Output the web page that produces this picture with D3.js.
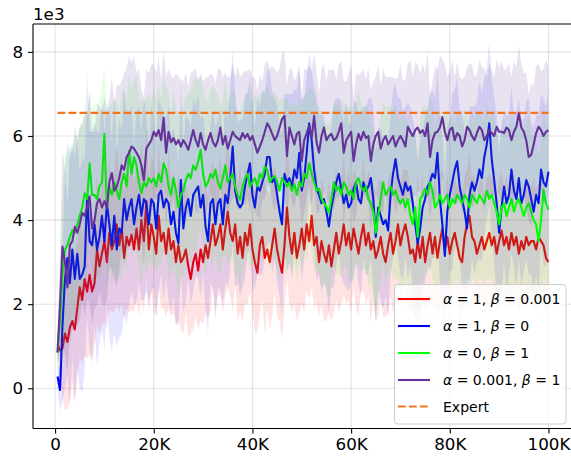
<!DOCTYPE html>
<html><head><meta charset="utf-8">
<script src="https://cdn.jsdelivr.net/npm/d3@7"></script>
<style>html,body{margin:0;padding:0;background:#fff;}svg{display:block;}</style>
</head><body>
<svg id="chart" width="571" height="458"></svg>
<script>
// timesteps: 500 .. 100000 every 500
const steps = d3.range(500, 100001, 500);
const xTicks = [0, 20000, 40000, 60000, 80000, 100000];
const xTickLabels = ["0", "20K", "40K", "60K", "80K", "100K"];
const yTicks = [0, 2, 4, 6, 8];
const yTickLabels = ["0", "2", "4", "6", "8"];
const expertValue = 6.55; // in 1e3

// values in thousands (1e3)
const redMean = [
1.05,0.9,0.95,1.3,1.1,1.45,1.6,1.4,1.9,2.4,
2.1,2.6,2.3,2.7,2.3,2.5,3.3,2.9,3.2,3.5,
3.0,3.7,3.3,3.5,3.9,3.4,3.8,3.1,3.6,3.4,
3.65,3.3,3.8,3.3,4.0,3.5,4.45,3.3,3.9,3.6,
3.2,4.1,3.5,3.7,3.2,3.8,3.3,3.5,3.0,3.4,
3.0,3.1,3.3,2.9,2.6,3.0,3.2,2.8,3.3,3.0,
3.4,3.1,3.5,3.9,3.4,3.6,3.9,3.3,3.8,4.2,
3.7,3.5,3.9,3.2,3.6,3.1,3.7,3.4,3.9,3.3,
3.0,2.75,3.4,3.6,3.1,3.3,3.0,3.4,3.8,3.3,
3.0,2.75,3.4,4.3,3.6,3.2,3.7,3.1,3.4,3.8,
3.3,3.9,3.5,4.1,3.4,3.6,3.0,3.5,3.2,3.0,
3.4,2.9,3.3,3.7,3.2,3.5,3.9,3.4,3.7,3.3,
3.8,3.5,3.2,3.6,3.9,3.4,3.7,3.3,3.5,3.1,
3.3,3.6,3.2,3.0,3.4,3.7,3.2,3.5,3.9,3.4,
3.7,3.9,3.6,3.2,3.3,3.0,3.5,3.1,3.6,3.0,
3.4,3.7,3.2,3.6,3.1,3.5,3.8,3.3,3.6,3.2,
3.5,3.7,3.4,3.1,3.0,3.6,3.9,4.1,3.6,3.5,
3.2,3.4,3.6,3.3,3.5,3.7,3.4,3.6,3.2,3.5,
3.75,3.4,3.6,3.3,3.7,3.4,3.6,3.2,3.5,3.3,
3.6,3.4,3.5,3.5,3.3,3.6,3.5,3.4,3.1,3.0];
const redStd = [
0.3,0.5,1.2,1.8,1.6,1.7,1.5,1.8,1.6,1.7,
1.5,1.8,1.6,1.9,1.7,1.5,1.8,1.6,1.7,1.9,
1.6,1.8,1.5,1.7,1.9,1.6,1.8,1.5,1.7,1.6,
1.8,1.5,1.7,1.6,1.9,1.7,1.8,1.5,1.6,1.8,
1.5,1.7,1.6,1.8,1.5,1.9,1.6,1.7,1.5,1.8,
1.6,1.8,1.5,1.7,1.3,1.6,1.5,1.4,1.7,1.5,
1.6,1.4,1.7,1.5,1.6,1.4,1.7,1.5,1.6,1.8,
1.5,1.7,1.4,1.6,1.8,1.5,1.7,1.4,1.6,1.5,
1.7,1.4,1.6,1.5,1.8,1.4,1.6,1.7,1.5,1.6,
1.4,1.6,1.5,1.7,1.6,1.4,1.7,1.5,1.6,1.8,
1.5,1.6,1.4,1.7,1.5,1.6,1.3,1.5,1.6,1.4,
1.6,1.3,1.5,1.6,1.4,1.5,1.7,1.4,1.6,1.5,
1.4,1.6,1.5,1.3,1.6,1.4,1.5,1.7,1.4,1.5,
1.6,1.4,1.5,1.3,1.6,1.5,1.4,1.6,1.5,1.4,
1.5,1.3,1.6,1.4,1.5,1.3,1.6,1.4,1.5,1.3,
1.4,1.6,1.3,1.5,1.4,1.6,1.4,1.3,1.5,1.4,
1.5,1.3,1.4,1.6,1.4,1.5,1.3,1.5,1.4,1.6,
1.3,1.5,1.4,1.3,1.5,1.4,1.6,1.4,1.3,1.5,
1.4,1.3,1.5,1.4,1.6,1.3,1.4,1.5,1.3,1.4,
1.5,1.4,1.3,1.5,1.4,1.3,1.5,1.4,1.3,1.4];

const blueMean = [
0.28,-0.04,1.5,2.6,3.1,2.5,3.3,2.6,3.2,2.6,
2.7,2.9,4.6,3.5,3.4,3.9,3.3,3.6,4.1,3.5,
4.4,3.9,3.4,4.1,3.3,3.8,3.7,4.5,4.0,4.3,
4.5,3.9,4.3,4.6,4.1,4.5,4.4,3.9,4.5,4.4,
3.8,4.6,4.7,4.3,4.5,4.4,3.9,4.2,3.7,3.45,
4.95,3.8,4.3,4.5,4.1,4.6,4.7,4.8,4.3,4.6,
3.85,3.5,4.4,4.5,3.9,4.4,4.5,3.9,4.6,4.4,
5.0,5.75,4.7,4.4,4.3,4.4,4.8,5.1,5.35,4.6,
4.3,4.8,4.7,4.9,5.1,5.5,5.5,4.9,5.0,4.6,
4.2,3.9,5.1,4.9,5.0,4.8,5.2,5.0,5.6,4.7,
5.0,5.6,6.3,5.9,5.2,4.75,4.6,4.4,4.5,4.2,
3.85,4.3,4.6,4.9,5.1,4.75,4.4,4.6,4.3,4.4,
4.75,4.9,4.5,4.4,4.9,4.7,4.8,5.0,4.5,3.6,
4.3,4.1,3.9,4.0,3.75,4.6,5.1,5.45,5.0,4.8,
4.6,4.9,4.7,4.8,4.4,3.9,3.45,3.8,4.3,4.5,
4.8,4.9,5.1,5.0,5.6,4.5,3.9,3.15,4.2,4.6,
4.9,5.2,5.4,4.8,4.5,4.2,3.8,4.6,4.9,4.7,
4.9,5.2,5.0,5.5,5.8,6.3,5.45,4.95,4.4,3.7,
4.3,4.8,4.4,4.6,5.2,4.7,4.5,5.0,4.4,4.6,
4.95,4.8,4.5,4.2,4.6,4.4,5.2,4.9,4.8,5.15];
const blueStd = [
0.3,0.5,1.8,2.6,2.8,3.0,2.5,2.9,2.7,2.6,
2.8,2.5,2.9,2.6,2.7,2.4,2.8,2.5,2.7,2.6,
2.4,2.7,2.5,2.8,2.3,2.6,2.4,2.7,2.5,2.3,
2.2,1.9,2.3,2.1,2.0,2.4,2.1,1.9,2.2,2.0,
2.1,2.3,2.0,2.2,1.9,2.3,2.1,2.0,2.2,1.9,
2.3,2.0,2.2,1.9,2.1,2.3,2.0,2.2,2.1,1.9,
2.0,2.2,1.9,2.1,2.3,2.0,2.2,1.9,2.1,2.0,
2.2,2.3,2.3,1.9,2.1,2.0,2.2,1.9,2.1,2.3,
1.9,2.1,2.0,2.2,1.9,2.1,2.0,2.2,1.9,2.1,
2.0,2.2,1.9,2.1,2.0,2.2,1.9,2.1,2.0,2.2,
1.9,1.8,1.7,1.7,2.0,2.2,1.9,2.1,2.0,1.8,
2.1,1.9,2.2,2.0,1.8,2.1,1.9,2.2,2.0,1.9,
2.1,1.9,2.0,2.2,1.8,2.0,2.1,1.9,2.2,2.0,
1.9,2.1,2.0,1.8,2.1,1.9,2.0,1.8,1.9,2.1,
2.0,1.8,2.1,1.9,2.0,2.2,1.9,2.1,1.8,2.0,
1.9,2.1,2.0,1.9,2.05,2.0,2.1,1.9,2.0,1.8,
2.1,1.9,2.0,1.8,2.1,1.9,2.0,2.1,1.8,2.0,
1.9,2.1,2.0,1.9,1.8,1.93,1.9,2.0,2.1,1.9,
2.0,1.8,2.1,1.9,2.0,1.8,2.1,1.9,2.0,1.8,
1.9,2.1,1.8,2.0,1.9,2.1,1.8,2.0,1.9,2.0];

const greenMean = [
0.85,1.6,2.7,3.3,3.4,3.6,3.76,3.7,3.9,4.1,
4.3,4.64,4.5,5.35,4.6,4.6,4.5,4.8,4.9,6.05,
4.3,4.8,4.6,4.9,4.7,4.5,4.9,5.1,4.8,5.65,
5.1,5.5,5.3,4.9,4.64,4.9,4.8,5.0,4.9,5.0,
4.8,5.1,4.9,5.35,5.2,4.8,4.6,5.0,4.7,4.3,
4.6,4.7,4.95,5.1,5.0,5.3,5.2,5.4,5.67,5.1,
4.8,4.9,5.1,5.0,5.2,4.9,4.75,5.0,5.3,4.9,
5.0,5.1,4.8,4.6,4.48,4.8,5.0,5.1,4.8,4.9,
5.0,4.8,5.1,5.0,5.27,5.2,4.9,5.0,5.05,4.9,
4.7,5.0,4.9,4.8,4.9,4.7,4.85,4.6,4.9,4.8,
5.1,5.0,5.35,5.1,4.9,4.7,4.75,4.5,4.4,4.32,
4.17,4.5,4.9,4.7,4.8,4.6,4.9,4.8,4.6,4.7,
4.5,4.9,5.0,4.8,4.7,4.8,4.5,4.4,4.2,3.7,
4.1,4.5,4.9,4.6,4.7,4.8,4.6,4.7,4.5,4.4,
4.5,4.3,4.5,4.1,3.9,4.3,3.6,4.5,4.6,4.75,
4.6,4.9,4.7,4.3,4.4,4.6,4.4,4.5,4.6,4.3,
4.5,4.4,4.6,4.5,4.4,4.6,4.5,4.3,4.6,4.5,
4.4,4.6,4.5,4.4,4.7,4.5,4.6,4.4,4.2,3.9,
4.3,4.4,4.1,4.3,4.5,4.2,4.4,4.5,4.3,4.1,
4.3,4.4,4.2,4.0,3.9,3.5,4.0,4.72,4.4,4.24];
const greenStd = [
0.4,1.2,2.0,2.3,2.1,2.2,2.0,2.3,2.1,2.2,
2.0,2.2,1.9,1.7,2.0,2.2,1.9,2.1,2.3,1.6,
2.1,1.9,2.2,2.0,2.1,1.9,2.2,2.0,2.1,1.8,
2.0,1.9,2.1,2.0,2.2,1.9,2.1,2.0,1.9,2.1,
2.0,2.2,1.9,2.1,2.0,2.2,1.9,2.1,2.0,2.2,
1.9,2.1,2.0,1.9,2.1,2.0,2.2,1.9,1.8,2.0,
2.1,1.9,2.0,2.2,1.9,2.1,2.0,1.9,2.1,2.0,
1.9,2.0,2.2,1.9,2.1,2.0,1.9,2.1,2.0,1.9,
2.0,2.1,1.9,2.0,1.8,2.0,2.1,1.9,2.0,2.1,
2.1,1.9,2.0,2.1,1.9,2.0,1.9,2.1,2.0,1.9,
1.9,2.0,1.8,2.0,2.1,1.9,2.0,2.1,1.9,2.0,
2.1,2.0,1.9,2.0,2.1,1.9,2.0,1.9,2.1,2.0,
2.0,1.9,2.1,2.0,1.9,2.0,2.1,1.9,2.0,2.1,
1.9,2.0,1.9,2.1,2.0,1.9,2.0,2.1,1.9,2.0,
2.0,2.1,1.9,2.0,2.1,1.9,2.0,1.9,2.1,2.0,
1.9,2.0,2.1,1.9,2.0,2.1,1.9,2.0,2.0,2.1,
2.0,1.9,2.0,2.1,1.9,2.0,2.1,1.9,2.0,1.9,
2.1,2.0,1.9,2.0,2.1,1.9,2.0,2.1,1.9,2.0,
1.9,2.0,2.1,1.9,2.0,2.1,1.9,2.0,2.1,1.9,
2.0,2.1,1.9,2.0,2.1,1.9,2.0,2.1,1.9,2.0];

const purpleMean = [
0.85,2.0,3.37,3.0,2.4,3.4,3.5,3.84,3.7,3.9,
4.17,4.1,4.3,4.56,3.8,4.0,4.4,4.5,4.3,4.45,
4.3,4.9,5.12,4.7,4.8,5.0,5.3,5.2,5.5,5.6,
5.75,5.7,5.6,5.5,5.3,4.95,5.7,5.8,5.9,6.1,
6.0,6.14,5.9,6.43,5.6,6.1,5.85,5.95,5.8,5.9,
5.75,5.9,5.8,5.67,5.9,6.14,5.9,5.75,6.07,5.8,
5.67,5.9,6.07,5.85,5.75,5.9,6.2,5.8,6.0,5.7,
5.9,6.1,6.0,5.95,5.9,6.07,5.95,6.05,5.9,6.0,
5.8,5.6,5.75,5.9,6.1,6.3,6.2,6.05,5.9,6.0,
6.2,6.4,6.48,5.52,6.2,6.0,5.8,6.05,6.1,5.4,
5.9,6.07,6.25,5.95,6.48,5.85,5.6,6.0,6.2,5.9,
6.0,6.05,5.9,5.95,6.1,6.3,5.6,5.9,6.0,6.1,
5.4,5.8,6.05,5.9,6.1,5.95,6.0,5.4,5.8,6.0,
6.1,5.7,5.9,6.0,5.8,5.9,6.0,5.75,5.9,6.0,
5.9,5.75,6.22,6.1,6.0,6.14,6.2,6.07,6.14,6.0,
6.3,5.5,5.9,6.07,6.1,6.2,6.45,6.1,5.9,6.14,
6.2,5.9,6.07,6.0,5.75,5.9,6.22,6.14,6.0,5.9,
6.07,6.22,6.14,5.9,6.0,6.14,6.07,6.0,6.22,6.1,
6.1,6.07,6.2,6.14,5.9,6.1,6.22,6.55,6.2,6.1,
5.9,5.5,5.55,5.8,6.07,6.22,6.14,6.0,6.1,6.14];
const purpleStd = [
0.3,1.2,2.3,2.2,2.0,2.3,2.1,2.4,2.2,2.3,
2.1,2.4,2.2,2.5,2.3,2.1,2.4,2.2,2.3,2.5,
2.2,2.0,2.3,2.1,2.4,2.2,2.0,2.3,2.1,2.3,
2.0,2.2,1.9,2.1,1.8,2.0,1.9,1.7,1.8,1.6,
1.5,1.7,1.4,1.6,1.8,1.5,1.6,1.4,1.7,1.5,
1.6,1.4,1.7,1.5,1.6,1.4,1.7,1.6,1.4,1.5,
1.7,1.5,1.4,1.6,1.5,1.7,1.4,1.6,1.5,1.7,
1.5,1.6,1.4,1.7,1.5,1.4,1.6,1.5,1.7,1.4,
1.6,1.5,1.7,1.4,1.6,1.5,1.4,1.6,1.7,1.5,
1.4,1.6,1.5,1.7,1.4,1.6,1.5,1.4,1.6,1.5,
1.7,1.5,1.4,1.6,1.5,1.7,1.4,1.6,1.5,1.4,
1.6,1.5,1.7,1.4,1.6,1.5,1.7,1.4,1.5,1.6,
1.5,1.7,1.4,1.6,1.5,1.4,1.6,1.7,1.5,1.4,
1.6,1.5,1.7,1.4,1.6,1.5,1.4,1.6,1.5,1.7,
1.4,1.6,1.5,1.7,1.4,1.6,1.5,1.4,1.6,1.5,
1.7,1.5,1.4,1.6,1.5,1.7,1.4,1.6,1.5,1.4,
1.6,1.5,1.7,1.4,1.6,1.5,1.4,1.6,1.7,1.5,
1.4,1.6,1.5,1.7,1.4,1.6,1.5,1.4,1.6,1.5,
1.7,1.5,1.4,1.6,1.5,1.7,1.4,1.6,1.5,1.4,
1.6,1.5,1.7,1.4,1.6,1.5,1.4,1.6,1.7,1.5];

const seriesColors = ["#ff0000", "#0000ff", "#00ff00", "#663399"];
const seriesLabels = [
  [["α", true], [" = 1, ", false], ["β", true], [" = 0.001", false]],
  [["α", true], [" = 1, ", false], ["β", true], [" = 0", false]],
  [["α", true], [" = 0, ", false], ["β", true], [" = 1", false]],
  [["α", true], [" = 0.001, ", false], ["β", true], [" = 1", false]]
];
const bandOpacity = [0.11, 0.1, 0.1, 0.14];
const expertLabel = "Expert";
const expertColor = "#f4731c";

const series = [
  {mean: redMean, std: redStd},
  {mean: blueMean, std: blueStd},
  {mean: greenMean, std: greenStd},
  {mean: purpleMean, std: purpleStd}
];

const svg = d3.select("#chart");
const L = 33, R = 573, T = 24, B = 428.5;
const x = d3.scaleLinear().domain([-4475, 104975]).range([L, R]);
const y = d3.scaleLinear().domain([-0.956, 8.663]).range([B, T]);
const FONT = "'DejaVu Sans', sans-serif";

svg.append("defs").append("clipPath").attr("id", "clip")
  .append("rect").attr("x", L).attr("y", T).attr("width", R - L).attr("height", B - T);

// grid
const grid = svg.append("g");
xTicks.forEach(t => grid.append("line").attr("x1", x(t)).attr("x2", x(t)).attr("y1", T).attr("y2", B)
  .attr("stroke", "#b0b0b0").attr("stroke-opacity", 0.35).attr("stroke-width", 1.1));
yTicks.forEach(t => grid.append("line").attr("x1", L).attr("x2", R).attr("y1", y(t)).attr("y2", y(t))
  .attr("stroke", "#b0b0b0").attr("stroke-opacity", 0.35).attr("stroke-width", 1.1));

const plot = svg.append("g").attr("clip-path", "url(#clip)");
const line = d3.line().x((d, i) => x(steps[i])).y(d => y(d));

series.forEach((s, k) => {
  const pts = s.mean.map((m, i) => ({x: steps[i], lo: m - s.std[i], hi: m + s.std[i]}));
  plot.append("path").attr("d", line(s.mean)).attr("fill", "none")
    .attr("stroke", seriesColors[k]).attr("stroke-width", 2.1).attr("stroke-linejoin", "round");
  const area = d3.area().x(d => x(d.x)).y0(d => y(d.lo)).y1(d => y(d.hi));
  plot.append("path").attr("d", area(pts)).attr("fill", seriesColors[k]).attr("fill-opacity", bandOpacity[k]);
});

plot.append("line").attr("x1", x(steps[0])).attr("x2", x(steps[steps.length - 1]))
  .attr("y1", y(expertValue)).attr("y2", y(expertValue))
  .attr("stroke", expertColor).attr("stroke-width", 2.1).attr("stroke-dasharray", "7.7,3.3");

// spines
const ax = svg.append("g").attr("stroke", "#000").attr("stroke-width", 1.1);
ax.append("line").attr("x1", L).attr("x2", L).attr("y1", T).attr("y2", B);
ax.append("line").attr("x1", L).attr("x2", R).attr("y1", B).attr("y2", B);
ax.append("line").attr("x1", L).attr("x2", R).attr("y1", T).attr("y2", T);
ax.append("line").attr("x1", R).attr("x2", R).attr("y1", T).attr("y2", B);

// axes via d3
const xAxis = d3.axisBottom(x).tickValues(xTicks).tickFormat((d, i) => xTickLabels[i]).tickSize(4.9).tickPadding(4.5);
const gx = svg.append("g").attr("transform", `translate(0,${B})`).call(xAxis);
gx.select(".domain").remove();
gx.selectAll("line").attr("stroke", "#000").attr("stroke-width", 1.1);
gx.selectAll("text").attr("font-family", FONT).attr("font-size", 16.7).attr("fill", "#000");

const yAxis = d3.axisLeft(y).tickValues(yTicks).tickFormat((d, i) => yTickLabels[i]).tickSize(4.9).tickPadding(4.9);
const gy = svg.append("g").attr("transform", `translate(${L},0)`).call(yAxis);
gy.select(".domain").remove();
gy.selectAll("line").attr("stroke", "#000").attr("stroke-width", 1.1);
gy.selectAll("text").attr("font-family", FONT).attr("font-size", 16.7).attr("fill", "#000");

svg.append("text").attr("x", L).attr("y", 20).attr("font-family", FONT).attr("font-size", 16.7).text("1e3");

// legend
const lg = svg.append("g");
lg.append("rect").attr("x", 394.5).attr("y", 284.5).attr("width", 171.5).attr("height", 139.5).attr("rx", 3.5)
  .attr("fill", "#fff").attr("fill-opacity", 0.8).attr("stroke", "#cccccc").attr("stroke-width", 1);
const rowY = [299, 326, 353, 380, 406.5];
seriesLabels.forEach((parts, k) => {
  lg.append("line").attr("x1", 398).attr("x2", 430).attr("y1", rowY[k]).attr("y2", rowY[k])
    .attr("stroke", seriesColors[k]).attr("stroke-width", 2.1);
  const t = lg.append("text").attr("x", 443).attr("y", rowY[k] + 5).attr("font-family", FONT).attr("font-size", 14)
    .attr("xml:space", "preserve").style("white-space", "pre");
  parts.forEach(p => t.append("tspan").attr("font-style", p[1] ? "italic" : "normal").text(p[0]));
});
lg.append("line").attr("x1", 398).attr("x2", 430).attr("y1", rowY[4]).attr("y2", rowY[4])
  .attr("stroke", expertColor).attr("stroke-width", 2.1).attr("stroke-dasharray", "7.7,3.3");
lg.append("text").attr("x", 443).attr("y", rowY[4] + 5).attr("font-family", FONT).attr("font-size", 14).text(expertLabel);
</script>
</body></html>
